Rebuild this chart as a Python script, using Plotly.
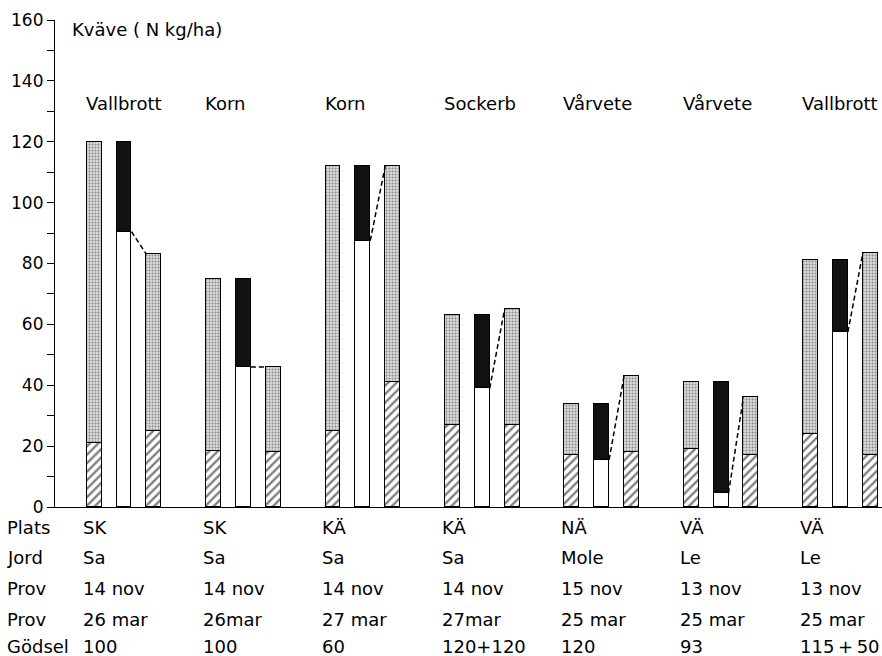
import plotly.graph_objects as go

# Nitrogen (N kg/ha) per field: autumn sample, spring remainder, spring sample
crops = ["Vallbrott", "Korn", "Korn", "Sockerb", "Vårvete", "Vårvete", "Vallbrott"]
plats = ["SK", "SK", "KÄ", "KÄ", "NÄ", "VÄ", "VÄ"]
jord = ["Sa", "Sa", "Sa", "Sa", "Mole", "Le", "Le"]
prov_host = ["14 nov", "14 nov", "14 nov", "14 nov", "15 nov", "13 nov", "13 nov"]
prov_var = ["26 mar", "26mar", "27 mar", "27mar", "25 mar", "25 mar", "25 mar"]
godsel = ["100", "100", "60", "120+120", "120", "93", "115\u2009+\u200950"]

autumn_total = [120, 75, 112, 63, 34, 41, 81]
autumn_lower = [21, 18.5, 25, 27, 17, 19, 24]
remaining = [90.5, 46, 87.5, 39, 15.5, 4.5, 57.5]
spring_total = [83, 46, 112, 65, 43, 36, 83.5]
spring_lower = [25, 18, 41, 27, 18, 17, 17]

FONT = "DejaVu Sans"
n = len(crops)
idx = list(range(n))
OFF = 0.25       # distance between neighbouring bars in a group
BW = 0.125       # bar width
X0, X1 = -0.578, 6.348

left_x = [g - OFF for g in idx]
right_x = [g + OFF for g in idx]
side_x = left_x + right_x

lower = autumn_lower + spring_lower
upper = [t - l for t, l in zip(autumn_total, autumn_lower)] + \
        [t - l for t, l in zip(spring_total, spring_lower)]
black_part = [t - r for t, r in zip(autumn_total, remaining)]

outline = dict(color="black", width=1.3)

fig = go.Figure()
fig.add_trace(go.Bar(
    x=side_x, y=lower, width=BW,
    marker=dict(color="white", line=outline,
                pattern=dict(shape="/", fgcolor="black", bgcolor="white",
                             size=6, solidity=0.4)),
    hoverinfo="skip", showlegend=False))
fig.add_trace(go.Bar(
    x=side_x, y=upper, width=BW,
    marker=dict(color="#d0d0d0", line=outline,
                pattern=dict(shape=".", fgcolor="#333333", bgcolor="#dadada",
                             size=3, solidity=0.35)),
    hoverinfo="skip", showlegend=False))
fig.add_trace(go.Bar(
    x=idx, y=remaining, width=BW,
    marker=dict(color="white", line=outline),
    hoverinfo="skip", showlegend=False))
fig.add_trace(go.Bar(
    x=idx, y=black_part, width=BW,
    marker=dict(color="#111111", line=outline),
    hoverinfo="skip", showlegend=False))

# dashed connectors from the spring remainder to the spring sample
lx, ly = [], []
for g in idx:
    lx += [g + BW / 2, g + OFF - BW / 2, None]
    ly += [remaining[g], spring_total[g], None]
fig.add_trace(go.Scatter(
    x=lx, y=ly, mode="lines",
    line=dict(color="black", width=1.5, dash="5px,3px"),
    hoverinfo="skip", showlegend=False))

ann = []
txt = dict(family=FONT, size=18, color="black")
ann.append(dict(x=-0.45, y=157, xref="x", yref="y", text="Kväve ( N kg/ha)",
                showarrow=False, xanchor="left", yanchor="middle", font=txt))
for g in idx:
    ann.append(dict(x=g - OFF - BW / 2 - 0.025, y=132.7, xref="x", yref="y",
                    text=crops[g], showarrow=False, xanchor="left",
                    yanchor="middle", font=txt))

PLOT_TOP, PLOT_BOTTOM = 20, 507


def paper_y(px):
    return (PLOT_BOTTOM - px) / (PLOT_BOTTOM - PLOT_TOP)


rows = [("Plats", plats, 527), ("Jord", jord, 557), ("Prov", prov_host, 588),
        ("Prov", prov_var, 619), ("Gödsel", godsel, 646)]
for label, vals, py in rows:
    ann.append(dict(x=-0.06, y=paper_y(py), xref="paper", yref="paper",
                    text=label, showarrow=False, xanchor="left",
                    yanchor="middle", font=txt))
    for g in idx:
        ann.append(dict(x=g - OFF - BW / 2 - 0.045, y=paper_y(py), xref="x",
                        yref="paper", text=vals[g], showarrow=False,
                        xanchor="left", yanchor="middle", font=txt))

fig.update_layout(
    width=882, height=656,
    margin=dict(l=55, r=0, t=PLOT_TOP, b=656 - PLOT_BOTTOM),
    barmode="stack", bargap=0,
    plot_bgcolor="white", paper_bgcolor="white",
    font=dict(family=FONT, color="black"),
    annotations=ann,
    xaxis=dict(range=[X0, X1], showticklabels=False, ticks="",
               showline=True, linecolor="black", linewidth=1,
               showgrid=False, zeroline=False),
    yaxis=dict(range=[0, 160], tickvals=list(range(0, 161, 20)),
               ticks="outside", ticklen=7, tickwidth=1, tickcolor="black",
               minor=dict(dtick=10, ticks="outside", ticklen=7,
                          tickcolor="black", showgrid=False),
               showline=True, linecolor="black", linewidth=1.2,
               showgrid=False, zeroline=False,
               tickfont=dict(family=FONT, size=17, color="black")),
)

fig.write_html("out.html")
